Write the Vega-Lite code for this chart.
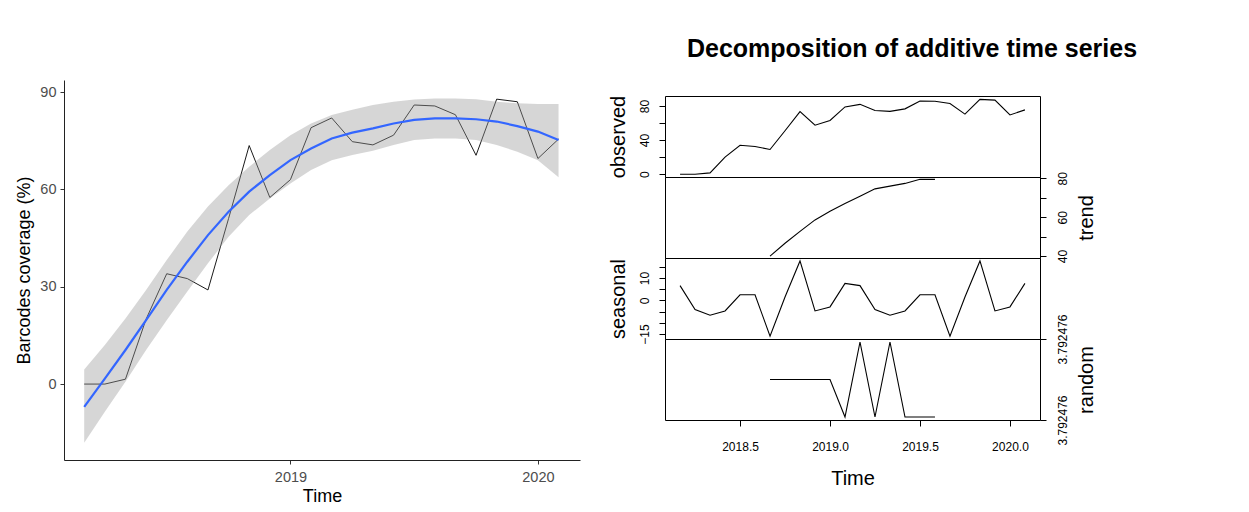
{
  "$schema": "https://vega.github.io/schema/vega-lite/v6.json",
  "background": "white",
  "padding": {"left": 15, "top": 37, "right": 5, "bottom": 5},
  "config": {"font": "Liberation Sans", "view": {"stroke": null}},
  "datasets": {
    "obs": [
      {"t": 2018.1667, "observed": 0, "trend": null, "seasonal": 6.6, "random": null},
      {"t": 2018.25, "observed": 0, "trend": null, "seasonal": -4.1, "random": null},
      {"t": 2018.3333, "observed": 1.5, "trend": null, "seasonal": -6.6, "random": null},
      {"t": 2018.4167, "observed": 20, "trend": null, "seasonal": -4.7, "random": null},
      {"t": 2018.5, "observed": 34, "trend": null, "seasonal": 2.5, "random": null},
      {"t": 2018.5833, "observed": 32.5, "trend": null, "seasonal": 2.5, "random": null},
      {"t": 2018.6667, "observed": 29, "trend": 40, "seasonal": -15.9, "random": 3.79247595},
      {"t": 2018.75, "observed": 51, "trend": 46.6, "seasonal": 1.5, "random": 3.79247595},
      {"t": 2018.8333, "observed": 73.5, "trend": 52.7, "seasonal": 17.6, "random": 3.79247595},
      {"t": 2018.9167, "observed": 57.5, "trend": 58.6, "seasonal": -4.7, "random": 3.79247595},
      {"t": 2019.0, "observed": 63, "trend": 63.1, "seasonal": -2.9, "random": 3.79247595},
      {"t": 2019.0833, "observed": 79, "trend": 67, "seasonal": 7.6, "random": 3.7924759},
      {"t": 2019.1667, "observed": 82, "trend": 70.8, "seasonal": 6.6, "random": 3.7924760},
      {"t": 2019.25, "observed": 74.7, "trend": 74.6, "seasonal": -4.1, "random": 3.7924759},
      {"t": 2019.3333, "observed": 73.7, "trend": 76, "seasonal": -6.6, "random": 3.7924760},
      {"t": 2019.4167, "observed": 76.7, "trend": 77.4, "seasonal": -4.7, "random": 3.7924759},
      {"t": 2019.5, "observed": 86, "trend": 79.5, "seasonal": 2.5, "random": 3.7924759},
      {"t": 2019.5833, "observed": 85.7, "trend": 79.5, "seasonal": 2.5, "random": 3.7924759},
      {"t": 2019.6667, "observed": 83, "trend": null, "seasonal": -15.9, "random": null},
      {"t": 2019.75, "observed": 70.5, "trend": null, "seasonal": 1.5, "random": null},
      {"t": 2019.8333, "observed": 87.8, "trend": null, "seasonal": 17.6, "random": null},
      {"t": 2019.9167, "observed": 87, "trend": null, "seasonal": -4.7, "random": null},
      {"t": 2020.0, "observed": 69.5, "trend": null, "seasonal": -2.9, "random": null},
      {"t": 2020.0833, "observed": 75.5, "trend": null, "seasonal": 7.6, "random": null}
    ],
    "smooth": [
      {"t": 2018.1667, "fit": -7, "lo": -18.1, "hi": 4.5},
      {"t": 2018.25, "fit": 1.7, "lo": -8.5, "hi": 12},
      {"t": 2018.3333, "fit": 10.5, "lo": 0.7, "hi": 20.2},
      {"t": 2018.4167, "fit": 19.7, "lo": 10.5, "hi": 29},
      {"t": 2018.5, "fit": 29, "lo": 19.7, "hi": 38.2},
      {"t": 2018.5833, "fit": 37.7, "lo": 28.5, "hi": 47},
      {"t": 2018.6667, "fit": 45.9, "lo": 37.2, "hi": 54.7},
      {"t": 2018.75, "fit": 53.1, "lo": 45.4, "hi": 61.3},
      {"t": 2018.8333, "fit": 59.3, "lo": 52.1, "hi": 67},
      {"t": 2018.9167, "fit": 64.4, "lo": 57.2, "hi": 72.1},
      {"t": 2019.0, "fit": 69, "lo": 61.8, "hi": 76.7},
      {"t": 2019.0833, "fit": 72.6, "lo": 66, "hi": 80.3},
      {"t": 2019.1667, "fit": 75.7, "lo": 69, "hi": 82.9},
      {"t": 2019.25, "fit": 77.5, "lo": 70.6, "hi": 84.5},
      {"t": 2019.3333, "fit": 78.8, "lo": 71.9, "hi": 86},
      {"t": 2019.4167, "fit": 80.3, "lo": 73.7, "hi": 87},
      {"t": 2019.5, "fit": 81.4, "lo": 75.2, "hi": 87.7},
      {"t": 2019.5833, "fit": 81.9, "lo": 75.7, "hi": 88},
      {"t": 2019.6667, "fit": 81.9, "lo": 75.7, "hi": 88},
      {"t": 2019.75, "fit": 81.6, "lo": 75.2, "hi": 87.8},
      {"t": 2019.8333, "fit": 80.9, "lo": 73.7, "hi": 87},
      {"t": 2019.9167, "fit": 79.5, "lo": 71.6, "hi": 86.5},
      {"t": 2020.0, "fit": 77.8, "lo": 69, "hi": 86.3},
      {"t": 2020.0833, "fit": 75.2, "lo": 63.7, "hi": 86.3}
    ]
  },
  "hconcat": [
    {
      "width": 516,
      "height": 380,
      "layer": [
        {
          "data": {"name": "obs"},
          "mark": {"type": "line", "color": "black", "strokeWidth": 0.9},
          "encoding": {
            "x": {"field": "t", "type": "quantitative", "scale": {"domain": [2018.085, 2020.17], "nice": false, "zero": false},
              "axis": {"title": "Time", "values": [2019, 2020], "format": "d", "grid": false, "domainColor": "#222222", "tickColor": "#333333", "tickSize": 4, "labelColor": "#4D4D4D", "labelFontSize": 14.5, "labelPadding": 6, "titleFontSize": 18, "titleFontWeight": "normal", "titleColor": "black", "titlePadding": 4}},
            "y": {"field": "observed", "type": "quantitative", "scale": {"domain": [-23.4, 93.7], "nice": false, "zero": false},
              "axis": {"title": "Barcodes coverage (%)", "values": [0, 30, 60, 90], "grid": false, "domainColor": "#222222", "tickColor": "#333333", "tickSize": 4, "labelColor": "#4D4D4D", "labelFontSize": 14.5, "labelPadding": 4, "titleFontSize": 18, "titleFontWeight": "normal", "titleColor": "black", "titlePadding": 6}}
          }
        },
        {
          "data": {"name": "smooth"},
          "mark": {"type": "area", "color": "#999999", "opacity": 0.4},
          "encoding": {
            "x": {"field": "t", "type": "quantitative"},
            "y": {"field": "lo", "type": "quantitative"},
            "y2": {"field": "hi"}
          }
        },
        {
          "data": {"name": "smooth"},
          "mark": {"type": "line", "color": "#3366FF", "strokeWidth": 2.2},
          "encoding": {
            "x": {"field": "t", "type": "quantitative"},
            "y": {"field": "fit", "type": "quantitative"}
          }
        }
      ]
    },
    {
      "title": {"text": "Decomposition of additive time series", "fontSize": 25, "fontWeight": "bold", "anchor": "middle", "offset": 18, "dx": 60, "color": "black"},
      "spacing": 0,
      "bounds": "flush",
      "data": {"name": "obs"},
      "vconcat": [
        {
          "width": 375, "height": 16,
          "data": {"values": []},
          "mark": {"type": "rule"},
          "encoding": {}
        },
        {
          "width": 375, "height": 81,
          "view": {"stroke": "black", "strokeWidth": 1},
          "mark": {"type": "line", "color": "black", "strokeWidth": 1.1},
          "encoding": {
            "x": {"field": "t", "type": "quantitative", "scale": {"domain": [2018.083, 2020.167], "nice": false, "zero": false}, "axis": null},
            "y": {"field": "observed", "type": "quantitative", "scale": {"domain": [-3.3, 91.8], "nice": false, "zero": false},
              "axis": {"orient": "left", "title": "observed", "values": [0, 20, 40, 60, 80], "labelExpr": "datum.value % 40 == 0 ? datum.label : ''", "grid": false, "domain": false, "tickColor": "black", "tickSize": 6, "labelAngle": -90, "labelAlign": "center", "labelBaseline": "bottom", "labelPadding": 8, "labelFontSize": 12, "labelColor": "black", "titleFontSize": 20, "titleFontWeight": "normal", "titleColor": "black", "titlePadding": 10}}
          }
        },
        {
          "width": 375, "height": 81,
          "view": {"stroke": "black", "strokeWidth": 1},
          "mark": {"type": "line", "color": "black", "strokeWidth": 1.1},
          "encoding": {
            "x": {"field": "t", "type": "quantitative", "scale": {"domain": [2018.083, 2020.167], "nice": false, "zero": false}, "axis": null},
            "y": {"field": "trend", "type": "quantitative", "scale": {"domain": [39, 80.7], "nice": false, "zero": false},
              "axis": {"orient": "right", "title": "trend", "values": [40, 50, 60, 70, 80], "labelExpr": "datum.value % 20 == 0 ? datum.label : ''", "grid": false, "domain": false, "tickColor": "black", "tickSize": 6, "labelAngle": -90, "labelAlign": "center", "labelBaseline": "top", "labelPadding": 11, "labelFontSize": 12, "labelColor": "black", "titleAngle": -90, "titleBaseline": "top", "titleFontSize": 20, "titleFontWeight": "normal", "titleColor": "black", "titlePadding": 8}}
          }
        },
        {
          "width": 375, "height": 81,
          "view": {"stroke": "black", "strokeWidth": 1},
          "mark": {"type": "line", "color": "black", "strokeWidth": 1.1},
          "encoding": {
            "x": {"field": "t", "type": "quantitative", "scale": {"domain": [2018.083, 2020.167], "nice": false, "zero": false}, "axis": null},
            "y": {"field": "seasonal", "type": "quantitative", "scale": {"domain": [-17.2, 18.9], "nice": false, "zero": false},
              "axis": {"orient": "left", "title": "seasonal", "values": [-15, -10, -5, 0, 5, 10, 15], "labelExpr": "datum.value == 10 || datum.value == 0 || datum.value == -15 ? datum.label : ''", "grid": false, "domain": false, "tickColor": "black", "tickSize": 6, "labelAngle": -90, "labelAlign": "center", "labelBaseline": "bottom", "labelPadding": 8, "labelFontSize": 12, "labelColor": "black", "labelOverlap": false, "titleFontSize": 20, "titleFontWeight": "normal", "titleColor": "black", "titlePadding": 10}}
          }
        },
        {
          "width": 375, "height": 81,
          "view": {"stroke": "black", "strokeWidth": 1},
          "mark": {"type": "line", "color": "black", "strokeWidth": 1.1},
          "encoding": {
            "x": {"field": "t", "type": "quantitative", "scale": {"domain": [2018.083, 2020.167], "nice": false, "zero": false},
              "axis": {"title": "Time", "values": [2018.5, 2019.0, 2019.5, 2020.0], "format": ".1f", "grid": false, "domain": false, "tickColor": "black", "tickSize": 6, "labelFontSize": 12, "labelColor": "black", "labelPadding": 15, "titleFontSize": 20, "titleFontWeight": "normal", "titleColor": "black", "titlePadding": 16}},
            "y": {"field": "random", "type": "quantitative", "scale": {"domain": [3.792475896, 3.792476004], "nice": false, "zero": false},
              "axis": {"orient": "right", "title": "random", "values": [3.792475896, 3.792476004], "format": ".6f", "grid": false, "domain": false, "tickColor": "black", "tickSize": 6, "labelAngle": -90, "labelAlign": "center", "labelBaseline": "top", "labelPadding": 11, "labelFontSize": 12, "labelColor": "black", "labelOverlap": false, "labelBound": false, "titleAngle": -90, "titleBaseline": "top", "titleFontSize": 20, "titleFontWeight": "normal", "titleColor": "black", "titlePadding": 8}}
          }
        }
      ]
    }
  ],
  "spacing": 27
}
